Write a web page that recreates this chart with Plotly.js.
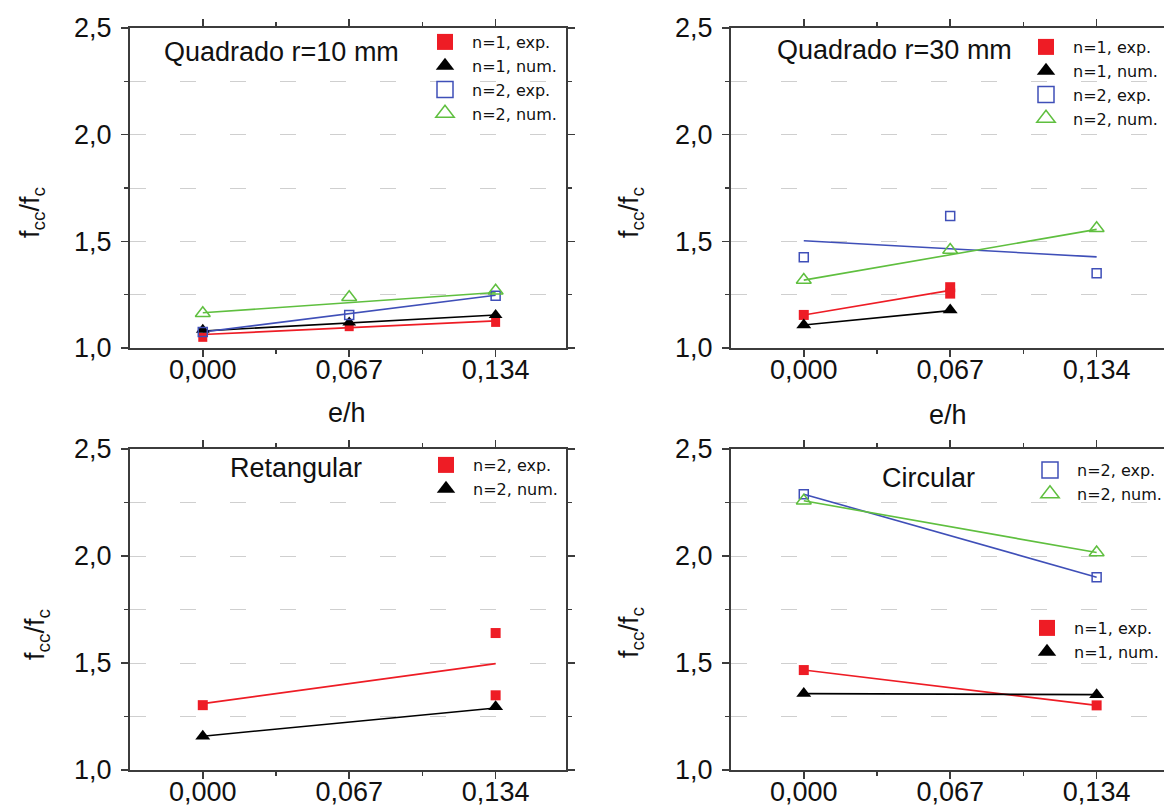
<!DOCTYPE html>
<html>
<head>
<meta charset="utf-8">
<script src="https://cdn.plot.ly/plotly-3.0.1.min.js"></script>
<style>
html, body { margin: 0; padding: 0; overflow: hidden; background: #fff; }
#chart { width: 1175px; height: 807px; }
</style>
</head>
<body>
<div id="chart"></div>
<script>
// ---------- DATA ----------
const ehTicks = [0, 0.067, 0.134];
const ehTickText = ['0,000', '0,067', '0,134'];
const yTickVals = [1.0, 1.5, 2.0, 2.5];

// Panel 1: Quadrado r=10 mm
const q10_x = [0, 0.067, 0.134];
const q10_n1_exp = [1.05, 1.10, 1.12];
const q10_n1_num = [1.085, 1.12, 1.155];
const q10_n2_exp = [1.075, 1.155, 1.245];
const q10_n2_num = [1.163, 1.238, 1.268];
const q10_fit_x = [0, 0.134];
const q10_n1_exp_fit = [1.063, 1.127];
const q10_n1_num_fit = [1.08, 1.155];
const q10_n2_exp_fit = [1.075, 1.247];
const q10_n2_num_fit = [1.165, 1.26];

// Panel 2: Quadrado r=30 mm
const q30_n1_exp_x = [0, 0.067, 0.067];
const q30_n1_exp = [1.155, 1.285, 1.255];
const q30_n1_num_x = [0, 0.067];
const q30_n1_num = [1.108, 1.178];
const q30_n2_x = [0, 0.067, 0.134];
const q30_n2_exp = [1.425, 1.619, 1.35];
const q30_n2_num = [1.319, 1.459, 1.561];
const q30_n1_fit_x = [0, 0.067];
const q30_n1_exp_fit = [1.155, 1.27];
const q30_n1_num_fit = [1.108, 1.175];
const q30_n2_fit_x = [0, 0.134];
const q30_n2_exp_fit = [1.503, 1.427];
const q30_n2_num_fit = [1.318, 1.556];

// Panel 3: Retangular
const ret_exp_x = [0, 0.134, 0.134];
const ret_n2_exp = [1.303, 1.64, 1.349];
const ret_num_x = [0, 0.134];
const ret_n2_num = [1.158, 1.295];
const ret_fit_x = [0, 0.134];
const ret_n2_exp_fit = [1.31, 1.497];
const ret_n2_num_fit = [1.158, 1.29];

// Panel 4: Circular
const circ_x = [0, 0.134];
const circ_n2_exp = [2.289, 1.901];
const circ_n2_num = [2.258, 2.016];
const circ_n1_exp = [1.467, 1.302];
const circ_n1_num = [1.357, 1.352];

// ---------- STYLE ----------
const RED = '#ee1c25', BLACK = '#000000', BLUE = '#3f4fb8', GREEN = '#5fbf3f';
const AXC = '#3c3c3c';
const FONT = 'Liberation Sans, Arial, sans-serif';
const LFONT = 'DejaVu Sans, sans-serif';
const W = 1175, H = 807;

function xd(a, b) { return [a / W, b / W]; }
function yd(top, bottom) { return [1 - bottom / H, 1 - top / H]; }

function xaxis(domain, anchor) {
  return {
    domain: domain, anchor: anchor, range: [-0.0333, 0.1662],
    tickmode: 'array', tickvals: ehTicks, ticktext: ehTickText,
    ticks: 'outside', ticklen: 7, tickwidth: 1.5, tickcolor: AXC, ticklabelstandoff: -10,
    minor: { tickmode: 'array', tickvals: [0.0335, 0.1005], ticks: 'outside', ticklen: 4, tickwidth: 1.5, tickcolor: AXC, showgrid: false },
    showline: true, linecolor: AXC, linewidth: 2, mirror: 'allticks',
    showgrid: false, zeroline: false,
    tickfont: { family: FONT, size: 27, color: '#111' }
  };
}
function yaxis(domain, anchor) {
  return {
    domain: domain, anchor: anchor, range: [1.0, 2.5],
    tickmode: 'array', tickvals: yTickVals, ticktext: yTickVals.map(v => v.toFixed(1).replace('.', ',')),
    ticks: 'outside', ticklen: 7, tickwidth: 1.5, tickcolor: AXC, ticklabelstandoff: 4,
    minor: { tickmode: 'array', tickvals: [1.25, 1.75, 2.25], ticks: 'outside', ticklen: 4, tickwidth: 1.5, tickcolor: AXC,
             showgrid: true, gridcolor: '#cfcfcf', gridwidth: 1, griddash: '16px,34px' },
    showline: true, linecolor: AXC, linewidth: 2, mirror: 'allticks',
    showgrid: true, gridcolor: '#cfcfcf', gridwidth: 1, griddash: '16px,34px', zeroline: false,
    tickfont: { family: FONT, size: 27, color: '#111' }
  };
}

const traces = [];
function line(x, y, xa, ya, color) {
  traces.push({ x: x, y: y, xaxis: xa, yaxis: ya, mode: 'lines', line: { color: color, width: 1.6 }, showlegend: false, hoverinfo: 'skip' });
}
function pts(x, y, xa, ya, color, symbol, size) {
  const open = symbol.indexOf('open') >= 0;
  traces.push({ x: x, y: y, xaxis: xa, yaxis: ya, mode: 'markers', showlegend: false,
    marker: { color: color, symbol: symbol, size: size, line: { color: color, width: open ? 1.5 : 0 } } });
}
function leg(name, xa, ya, color, symbol, legend) {
  const open = symbol.indexOf('open') >= 0;
  traces.push({ x: [null], y: [null], xaxis: xa, yaxis: ya, mode: 'markers', name: name, legend: legend, showlegend: true,
    marker: { color: color, symbol: symbol, size: 20, line: { color: color, width: open ? 1.5 : 0 } } });
}

// Panel 1
line(q10_fit_x, q10_n1_exp_fit, 'x', 'y', RED);
line(q10_fit_x, q10_n1_num_fit, 'x', 'y', BLACK);
line(q10_fit_x, q10_n2_exp_fit, 'x', 'y', BLUE);
line(q10_fit_x, q10_n2_num_fit, 'x', 'y', GREEN);
pts(q10_x, q10_n1_exp, 'x', 'y', RED, 'square', 9);
pts(q10_x, q10_n1_num, 'x', 'y', BLACK, 'triangle-up', 12);
pts(q10_x, q10_n2_exp, 'x', 'y', BLUE, 'square-open', 9);
pts(q10_x, q10_n2_num, 'x', 'y', GREEN, 'triangle-up-open', 13);
leg('n=1, exp.', 'x', 'y', RED, 'square', 'legend');
leg('n=1, num.', 'x', 'y', BLACK, 'triangle-up', 'legend');
leg('n=2, exp.', 'x', 'y', BLUE, 'square-open', 'legend');
leg('n=2, num.', 'x', 'y', GREEN, 'triangle-up-open', 'legend');

// Panel 2
line(q30_n1_fit_x, q30_n1_exp_fit, 'x2', 'y2', RED);
line(q30_n1_fit_x, q30_n1_num_fit, 'x2', 'y2', BLACK);
line(q30_n2_fit_x, q30_n2_exp_fit, 'x2', 'y2', BLUE);
line(q30_n2_fit_x, q30_n2_num_fit, 'x2', 'y2', GREEN);
pts(q30_n1_exp_x, q30_n1_exp, 'x2', 'y2', RED, 'square', 10);
pts(q30_n1_num_x, q30_n1_num, 'x2', 'y2', BLACK, 'triangle-up', 13);
pts(q30_n2_x, q30_n2_exp, 'x2', 'y2', BLUE, 'square-open', 9);
pts(q30_n2_x, q30_n2_num, 'x2', 'y2', GREEN, 'triangle-up-open', 13);
leg('n=1, exp.', 'x2', 'y2', RED, 'square', 'legend2');
leg('n=1, num.', 'x2', 'y2', BLACK, 'triangle-up', 'legend2');
leg('n=2, exp.', 'x2', 'y2', BLUE, 'square-open', 'legend2');
leg('n=2, num.', 'x2', 'y2', GREEN, 'triangle-up-open', 'legend2');

// Panel 3
line(ret_fit_x, ret_n2_exp_fit, 'x3', 'y3', RED);
line(ret_fit_x, ret_n2_num_fit, 'x3', 'y3', BLACK);
pts(ret_exp_x, ret_n2_exp, 'x3', 'y3', RED, 'square', 10);
pts(ret_num_x, ret_n2_num, 'x3', 'y3', BLACK, 'triangle-up', 13);
leg('n=2, exp.', 'x3', 'y3', RED, 'square', 'legend3');
leg('n=2, num.', 'x3', 'y3', BLACK, 'triangle-up', 'legend3');

// Panel 4
line(circ_x, circ_n2_exp, 'x4', 'y4', BLUE);
line(circ_x, circ_n2_num, 'x4', 'y4', GREEN);
line(circ_x, circ_n1_exp, 'x4', 'y4', RED);
line(circ_x, circ_n1_num, 'x4', 'y4', BLACK);
pts(circ_x, circ_n2_exp, 'x4', 'y4', BLUE, 'square-open', 9);
pts(circ_x, circ_n2_num, 'x4', 'y4', GREEN, 'triangle-up-open', 13);
pts(circ_x, circ_n1_exp, 'x4', 'y4', RED, 'square', 10);
pts(circ_x, circ_n1_num, 'x4', 'y4', BLACK, 'triangle-up', 13);
leg('n=2, exp.', 'x4', 'y4', BLUE, 'square-open', 'legend4');
leg('n=2, num.', 'x4', 'y4', GREEN, 'triangle-up-open', 'legend4');
leg('n=1, exp.', 'x4', 'y4', RED, 'square', 'legend5');
leg('n=1, num.', 'x4', 'y4', BLACK, 'triangle-up', 'legend5');

function legendAt(px, py) {
  return { x: px / W, y: 1 - py / H, xanchor: 'left', yanchor: 'top', bgcolor: 'rgba(0,0,0,0)', borderwidth: 0,
           font: { family: LFONT, size: 16, color: '#111' }, itemwidth: 44, tracegroupgap: 0 };
}

function ann(text, px, py, size, angle) {
  return { text: text, x: px / W, y: 1 - py / H, xref: 'paper', yref: 'paper', showarrow: false,
           xanchor: 'center', yanchor: 'middle', textangle: angle || 0, font: { family: FONT, size: size, color: '#111' } };
}

const row1 = yd(28, 348), row2 = yd(449, 770);
const col1 = xd(130, 566), col2 = xd(731, 1167);

const layout = {
  width: W, height: H, margin: { l: 0, r: 0, t: 0, b: 0 },
  paper_bgcolor: '#fff', plot_bgcolor: '#fff', separators: ',.',
  xaxis: xaxis(col1, 'y'), yaxis: yaxis(row1, 'x'),
  xaxis2: xaxis(col2, 'y2'), yaxis2: yaxis(row1, 'x2'),
  xaxis3: xaxis(col1, 'y3'), yaxis3: yaxis(row2, 'x3'),
  xaxis4: xaxis(col2, 'y4'), yaxis4: yaxis(row2, 'x4'),
  legend: legendAt(418, 25),
  legend2: legendAt(1019, 30),
  legend3: legendAt(419, 448),
  legend4: legendAt(1023, 453),
  legend5: legendAt(1020, 611),
  annotations: [
    ann('Quadrado r=10 mm', 281, 52, 27),
    ann('Quadrado r=30 mm', 894, 50, 27),
    ann('Retangular', 296, 468, 27),
    ann('Circular', 928, 478, 27),
    ann('e/h', 347, 413, 27),
    ann('e/h', 948, 415, 27),
    ann('f<sub>cc</sub>/f<sub>c</sub>', 32, 213, 27, -90),
    ann('f<sub>cc</sub>/f<sub>c</sub>', 631, 213, 27, -90),
    ann('f<sub>cc</sub>/f<sub>c</sub>', 37, 635, 27, -90),
    ann('f<sub>cc</sub>/f<sub>c</sub>', 631, 633, 27, -90)
  ],
  showlegend: true
};

Plotly.newPlot('chart', traces, layout, { displayModeBar: false, staticPlot: true });
</script>
</body>
</html>
